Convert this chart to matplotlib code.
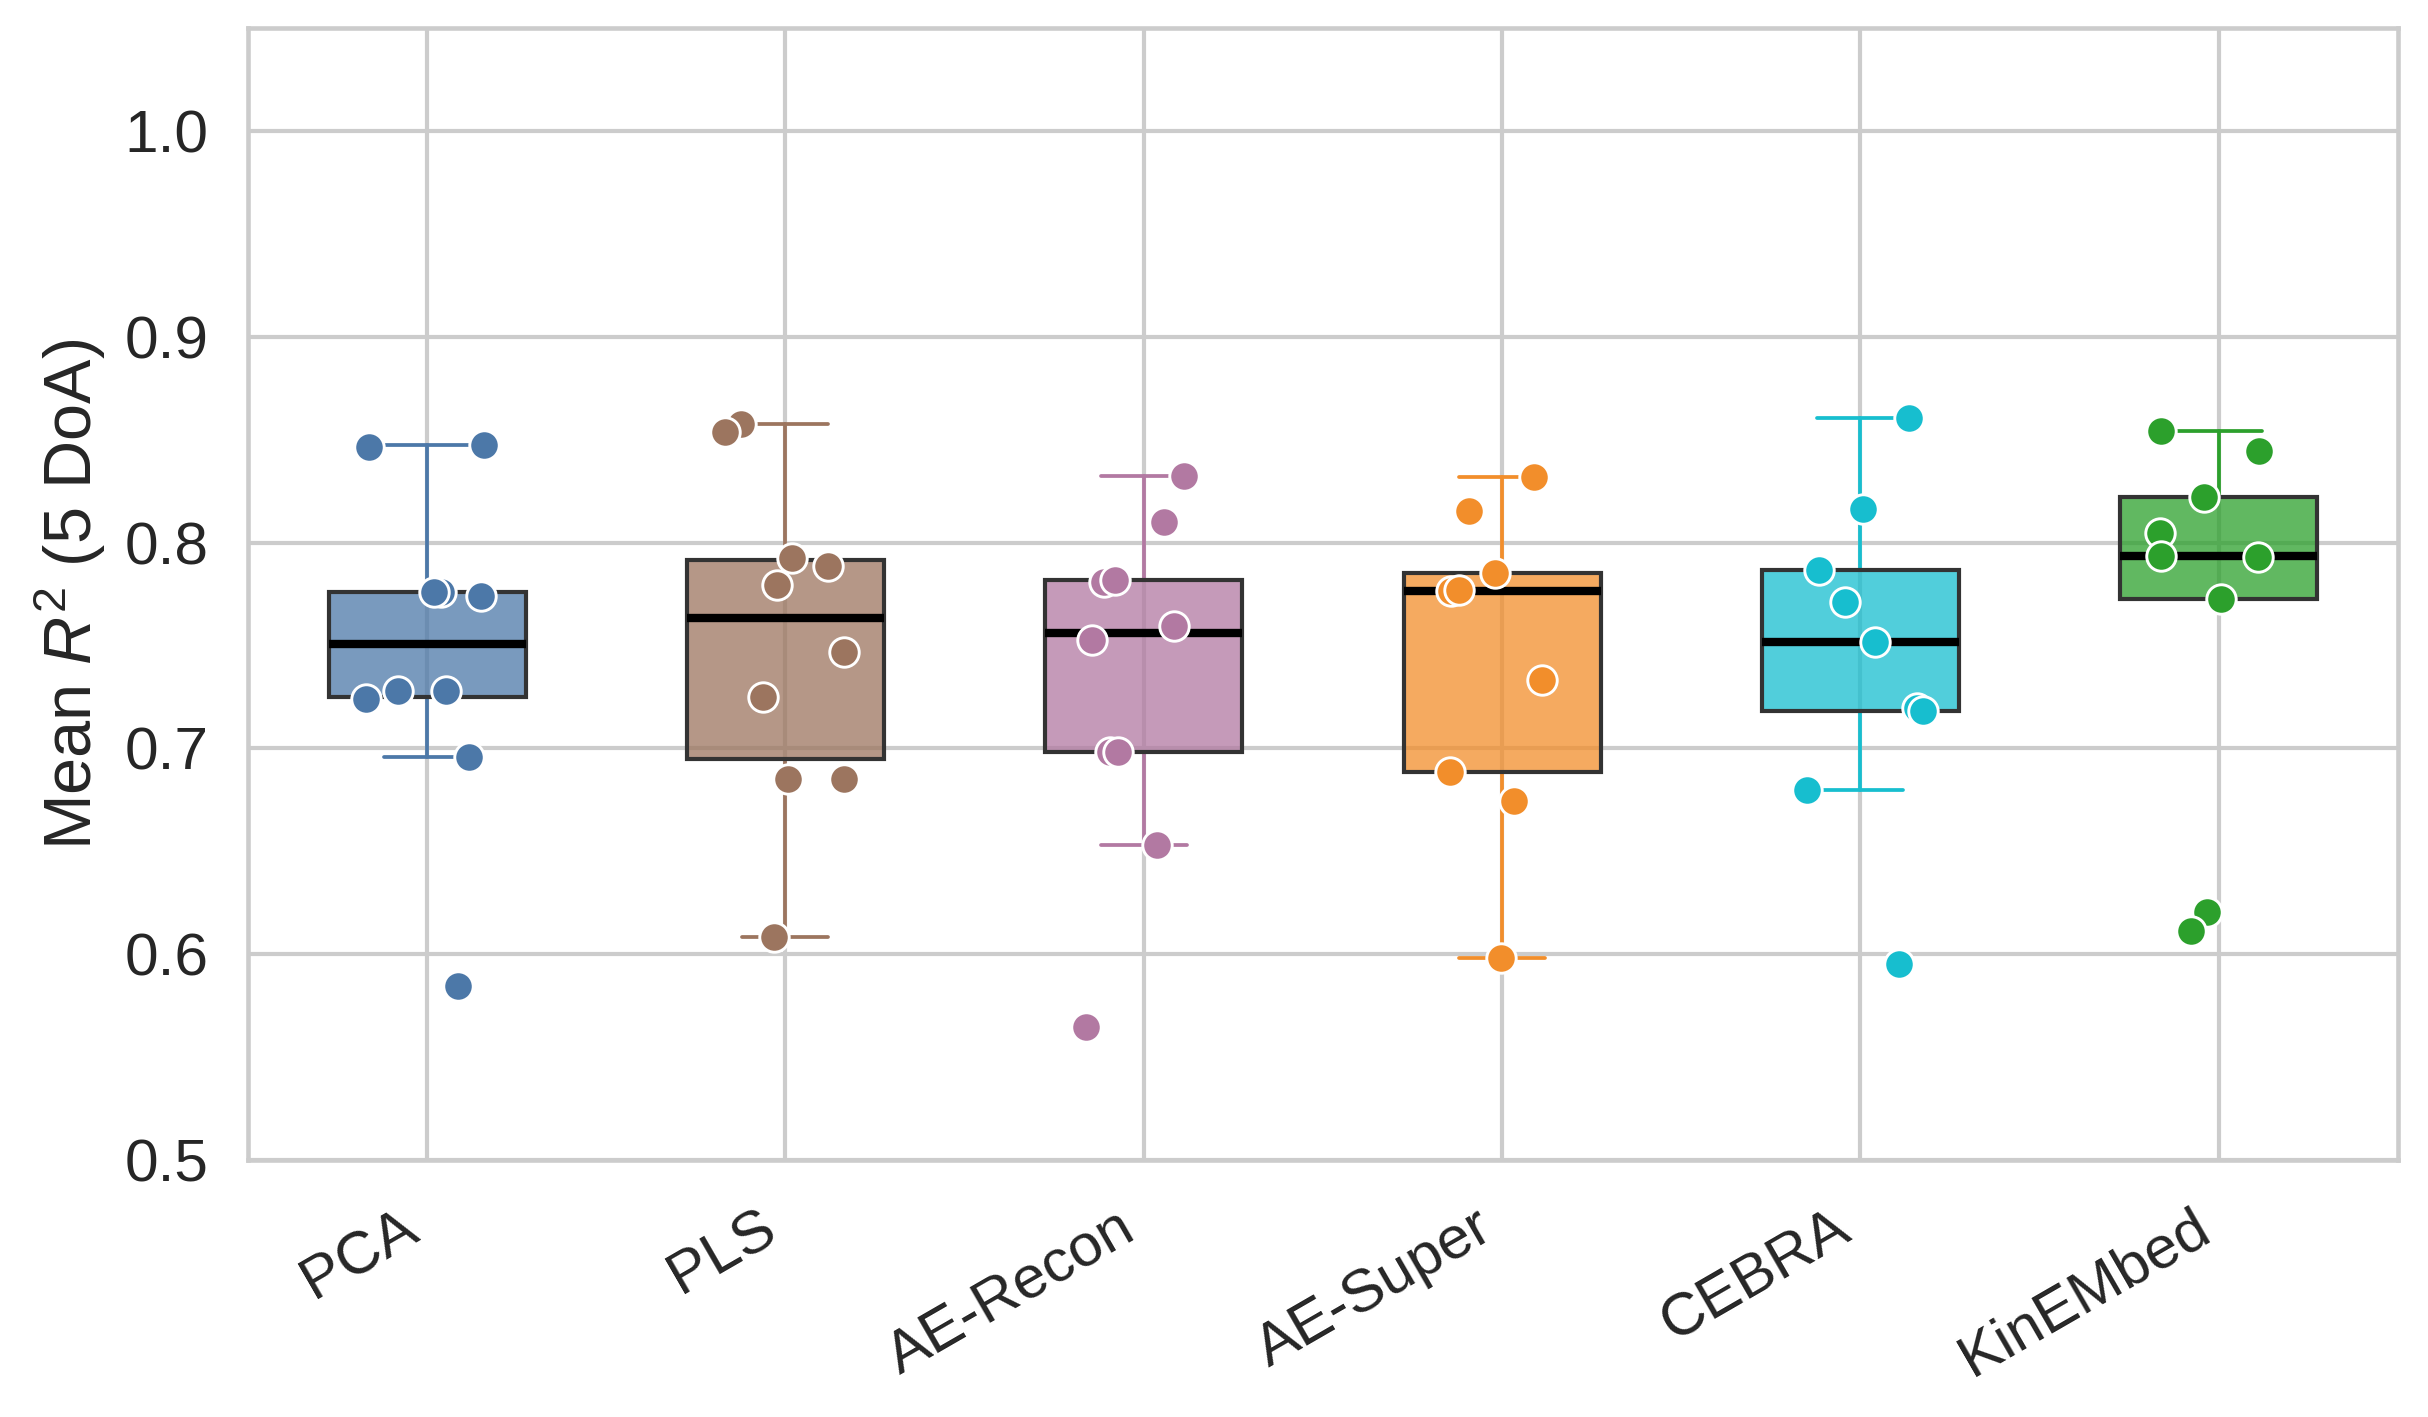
import matplotlib
matplotlib.use("Agg")
import matplotlib.pyplot as plt
import seaborn as sns

# data
methods = ["PCA", "PLS", "AE-Recon", "AE-Super", "CEBRA", "KinEMbed"]
colors = ["#4c78a8", "#9c755f", "#b279a2", "#f28e2b", "#17becf", "#2ca02c"]

pca = [0.8466, 0.8476, 0.7761, 0.7761, 0.7741, 0.7240, 0.7277, 0.7277, 0.6958, 0.5845]
pls = [0.8574, 0.8539, 0.7924, 0.7888, 0.7796, 0.7471, 0.7248, 0.6852, 0.6852, 0.6084]
ae_recon = [0.8325, 0.8100, 0.7810, 0.7820, 0.7528, 0.7596, 0.6983, 0.6983, 0.6533, 0.5645]
ae_super = [0.8317, 0.8153, 0.7851, 0.7765, 0.7769, 0.7335, 0.6887, 0.6744, 0.5984]
cebra = [0.8603, 0.8161, 0.7869, 0.7710, 0.7516, 0.7199, 0.7183, 0.6797, 0.5953]
kinembed = [0.8543, 0.8445, 0.8220, 0.8048, 0.7937, 0.7929, 0.7727, 0.6205, 0.6112]

# horizontal strip jitter of each point (category units)
pca_jit = [-0.162, 0.158, 0.040, 0.019, 0.149, -0.172, -0.082, 0.052, 0.116, 0.085]
pls_jit = [-0.123, -0.168, 0.019, 0.120, -0.025, 0.164, -0.064, 0.006, 0.164, -0.031]
ae_recon_jit = [0.113, 0.057, -0.112, -0.080, -0.145, 0.083, -0.094, -0.071, 0.037, -0.160]
ae_super_jit = [0.088, -0.093, -0.020, -0.142, -0.121, 0.110, -0.145, 0.032, -0.004]
cebra_jit = [0.135, 0.006, -0.116, -0.044, 0.040, 0.157, 0.174, -0.149, 0.109]
kinembed_jit = [-0.160, 0.112, -0.040, -0.163, -0.160, 0.109, 0.006, -0.032, -0.077]

values = [pca, pls, ae_recon, ae_super, cebra, kinembed]
jitters = [pca_jit, pls_jit, ae_recon_jit, ae_super_jit, cebra_jit, kinembed_jit]

sns.set_theme(style="whitegrid")
plt.rcParams['font.family'] = ['Liberation Sans', 'DejaVu Sans']
plt.rcParams['mathtext.fontset'] = 'custom'
plt.rcParams['mathtext.rm'] = 'Liberation Sans'
plt.rcParams['mathtext.it'] = 'Liberation Sans:italic'

fig = plt.figure(figsize=(2429 / 300, 1417 / 300), dpi=300)
ax = fig.add_axes([0.1021, 0.1812, 0.8851, 0.7991])

positions = list(range(len(methods)))
bp = ax.boxplot(values, positions=positions, widths=0.55, patch_artist=True,
                showfliers=False, capwidths=0.24, zorder=2)

for i, c in enumerate(colors):
    box = bp['boxes'][i]
    box.set_facecolor(c)
    box.set_alpha(None)
    box.set_facecolor(matplotlib.colors.to_rgba(c, 0.75))
    box.set_edgecolor("#333333")
    box.set_linewidth(1.0)
    bp['medians'][i].set_color("black")
    bp['medians'][i].set_linewidth(2.0)
    for ln in bp['whiskers'][2 * i:2 * i + 2] + bp['caps'][2 * i:2 * i + 2]:
        ln.set_color(c)
        ln.set_linewidth(0.9)
        ln.set_solid_capstyle('round')
        ln.set_zorder(1.5)

for i, (vals, jit) in enumerate(zip(values, jitters)):
    xs = [i + j for j in jit]
    ax.scatter(xs, vals, s=50, color=colors[i], edgecolor="white",
               linewidth=0.7, zorder=3)

ax.set_xlim(-0.5, 5.5)
ax.set_ylim(0.5, 1.05)
ax.set_yticks([0.5, 0.6, 0.7, 0.8, 0.9, 1.0])
ax.set_yticklabels(["0.5", "0.6", "0.7", "0.8", "0.9", "1.0"])
ax.set_xticks(positions)
ax.set_xticklabels(methods, rotation=30, ha='right')
ax.tick_params(axis='both', labelsize=14.5, colors='#262626')
ax.set_ylabel("Mean $R^2$ (5 DoA)", fontsize=16, color='#262626')
for sp in ax.spines.values():
    sp.set_color('#cccccc')
    sp.set_linewidth(1.1)

fig.savefig("out.png", dpi=300)
